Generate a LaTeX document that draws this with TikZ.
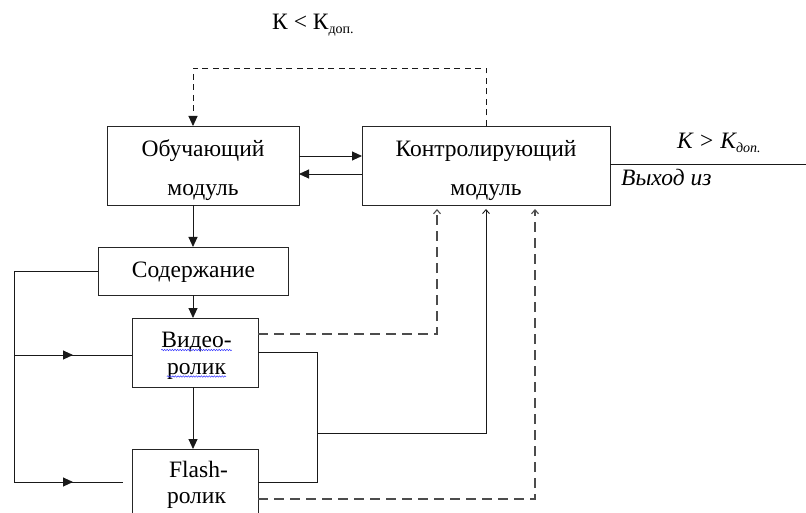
\documentclass[tikz,border=0pt]{standalone}
\usepackage{fontspec}
\setmainfont{Liberation Serif}
\usetikzlibrary{arrows.meta,calc,decorations.markings,decorations.pathmorphing}
\begin{document}
\begin{tikzpicture}[x=1pt,y=-1pt,
  box/.style={draw=black!85, line width=0.9pt, inner sep=0pt, outer sep=0pt},
  txt/.style={inner sep=0pt, anchor=base, font=\fontsize{23.5}{28}\selectfont},
  itxt/.style={inner sep=0pt, anchor=base west, font=\fontsize{23.5}{28}\selectfont\itshape},
  conn/.style={draw=black!90, line width=0.9pt},
  dsh/.style={conn, dash pattern=on 6pt off 4.5pt},
  dshl/.style={draw=black!70, line width=1.1pt, dash pattern=on 10pt off 6pt},
  tri/.style={-{Triangle[length=10pt,width=9pt]}},
  barb/.style={-{Straight Barb[length=4pt,width=7pt]}, shorten >=4pt},
  midtri/.style={postaction={decorate}, decoration={markings,
    mark=at position 59pt with {\arrow{Triangle[length=10pt,width=9pt]}}}},
  spell/.style={draw=blue!80, line width=0.5pt, decorate,
    decoration={snake, amplitude=0.7pt, segment length=2.6pt}}]

\useasboundingbox (0,0) rectangle (806,513);
\clip (0,0) rectangle (806,513);

% blocks
\node[box, minimum width=192pt, minimum height=79pt] (obuch) at (203,165.5) {};
\node[box, minimum width=248pt, minimum height=79pt] (kontr) at (486,165.5) {};
\node[box, minimum width=190pt, minimum height=48pt] (sod) at (193,271) {};
\node[box, minimum width=126pt, minimum height=69pt] (video) at (195,352.5) {};
\node[box, minimum width=126pt, minimum height=91pt] (flash) at (195,494.5) {};

% block captions
\node[txt] (ob1) at (203,157) {Обучающий};
\node[txt] (ob2) at (203,196) {модуль};
\node[txt] (ko1) at (486,157) {Контролирующий};
\node[txt] (ko2) at (486,196) {модуль};
\node[txt] (so1) at (193.5,277) {Содержание};
\node[txt] (vi1) at (196.5,347) {Видео-};
\node[txt] (vi2) at (196.5,374) {ролик};
\node[txt] (fl1) at (198.5,477) {Flash-};
\node[txt] (fl2) at (196.5,503) {ролик};
\draw[spell] ([yshift=-3pt]vi1.base west) -- ([yshift=-3pt]vi1.base east);
\draw[spell] ([yshift=-2.5pt]vi2.base west) -- ([yshift=-2.5pt]vi2.base east);

% condition labels
\node[inner sep=0pt, anchor=base west, font=\fontsize{23.5}{28}\selectfont] (klt) at (272,30)
  {К < К\raisebox{-0.35ex}{\fontsize{14}{14}\selectfont доп.}};
\node[itxt] (kgt) at (677,149) {К > К\raisebox{-0.35ex}{\fontsize{14}{14}\selectfont\itshape доп.}};
\node[itxt] (out) at (621,186) {Выход из};

% feedback from the control module to the teaching module
\coordinate (dtop) at (193,68);
\draw[dsh, tri] (kontr.north) |- (dtop) -- (dtop |- obuch.north);

% exchange between the modules
\draw[conn, tri] ($(obuch.east)+(0,-9.5)$) -- ($(kontr.west)+(0,-9.5)$);
\draw[conn, tri] ($(kontr.west)+(0,8.5)$) -- ($(obuch.east)+(0,8.5)$);

% exit
\coordinate (exitend) at (806,164);
\draw[conn] (kontr.east |- exitend) -- (exitend);

% main chain
\draw[conn, tri] (sod.north |- obuch.south) -- (sod.north);
\draw[conn, tri] (sod.south) -- (sod.south |- video.north);
\draw[conn, tri] (sod.south |- video.south) -- (sod.south |- flash.north);

% left bypass lines
\coordinate (lt) at (14,271);
\coordinate (lm) at (14,355);
\coordinate (lb) at (14,482);
\coordinate (flin) at (123,482);
\draw[conn] (sod.west) -- (lt) -- (lb);
\draw[conn, midtri] (lm) -- (video.west |- lm);
\draw[conn, midtri] (lb) -- (flin);

% right collector lines
\coordinate (rt) at (317,352.5);
\coordinate (rb) at (317,482);
\coordinate (rm) at (317,433);
\draw[conn] (video.east) -- (rt) -- (rb) -- (flash.east |- rb);
\draw[conn, barb] (rm) -- (rm -| kontr.south) -- (kontr.south);

% dashed returns into the control module
\coordinate (dv) at (437,334);
\coordinate (df) at (535,499);
\draw[dshl, barb] (video.east |- dv) -- (dv) -- (dv |- kontr.south);
\draw[dshl, barb] (flash.east |- df) -- (df) -- (df |- kontr.south);
\end{tikzpicture}
\end{document}
